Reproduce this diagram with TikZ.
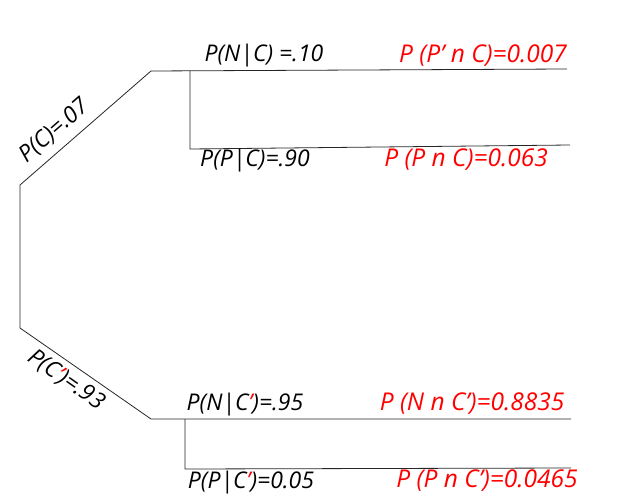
\documentclass[tikz,border=0pt]{standalone}
\usepackage{fontspec}
\setmainfont{Open Sans}
\begin{document}
\begin{tikzpicture}[x=1pt,y=-1pt,
  branch/.style={draw=black!85,line width=0.8pt},
  lbl/.style={inner sep=0pt,font=\fontsize{23}{27}\selectfont\itshape},
  res/.style={inner sep=0pt,font=\fontsize{24.5}{28}\selectfont\itshape,text=red}]
\useasboundingbox (0,0) rectangle (626,500);
% junction points
\coordinate (r1) at (20,185);
\coordinate (r2) at (20,328);
\coordinate (c) at (151,71);
\coordinate (nc) at (151,419);
\coordinate (a1) at (190,71);
\coordinate (a2) at (190,149);
\coordinate (b1) at (185,419);
\coordinate (b2) at (185,469);
\coordinate (e1) at (567,69);
\coordinate (e2) at (570,145);
\coordinate (e3) at (571,419);
\coordinate (e4) at (571,468);
% branches
\draw[branch] (r2) -- (r1) -- (c) -- (e1);
\draw[branch] (a1) -- (a2) -- (e2);
\draw[branch] (r2) -- (nc) -- (e3);
\draw[branch] (b1) -- (b2) -- (e4);
% labels
\node[lbl,rotate=41] (lc) at (54,131) {P(C)=.07};
\node[lbl,rotate=-35] (lnc) at (66,380) {P(C\textcolor{red}{’})=.93};
\node[lbl] (lnC) at (264,56) {P(N|C) =.10};
\node[lbl] (lpC) at (255,161) {P(P|C)=.90};
\node[lbl] (lnN) at (245,405) {P(N|C\textcolor{red}{’})=.95};
\node[lbl] (lpN) at (251,483) {P(P|C\textcolor{red}{’})=0.05};
\node[res] (q1) at (483,56) {P (P’ n C)=0.007};
\node[res] (q2) at (466,160) {P (P n C)=0.063};
\node[res] (q3) at (472,404) {P (N n C’)=0.8835};
\node[res] (q4) at (487,481) {P (P n C’)=0.0465};
\end{tikzpicture}
\end{document}
